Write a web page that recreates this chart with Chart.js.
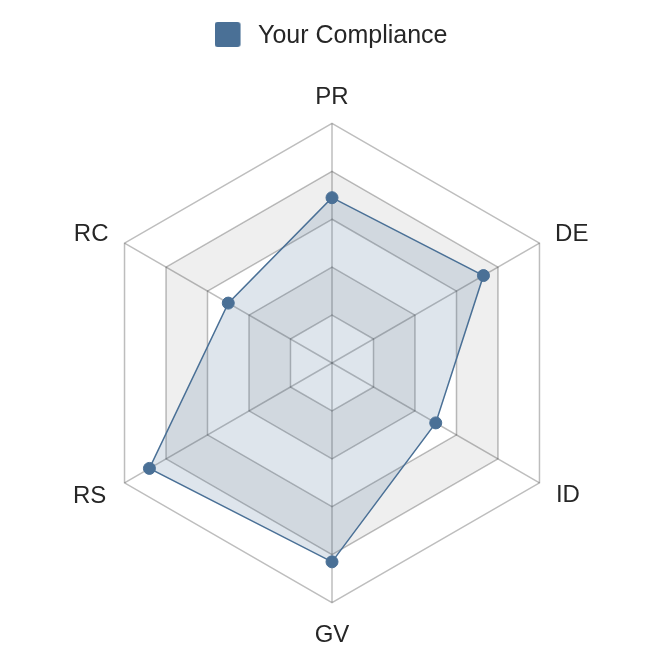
<!DOCTYPE html>
<html>
<head>
<meta charset="utf-8">
<script src="https://cdn.jsdelivr.net/npm/chart.js@4/dist/chart.umd.min.js"></script>
<style>
  html, body { margin: 0; padding: 0; background: #ffffff; }
  #wrap { width: 662px; height: 672px; position: relative; }
</style>
</head>
<body>
<div id="wrap"><canvas id="c"></canvas></div>
<script>
// ---- data ----
const categories = ['PR', 'DE', 'ID', 'GV', 'RS', 'RC'];
const complianceValues = [69, 73, 50, 83, 88, 50];
const seriesName = 'Your Compliance';
const scaleMin = 0;
const scaleMax = 100;
const scaleStep = 20;
const shadedBands = [[20, 40], [60, 80]];

// ---- style ----
const fontFamily = '"Liberation Sans", Arial, Helvetica, sans-serif';
const lineColor = '#4a7096';
const fillColor = 'rgba(74,112,150,0.18)';
const gridColor = 'rgba(0,0,0,0.26)';
const bandColor = '#efefef';
const textColor = '#262626';
const labelPadding = [25.9, 18, 19, 33.2, 21, 18.5];
const labelLineHeight = [0, 0, 5.9, 0, 6.3, 0];

// legend marker: rounded square on the left of a slightly wider cell
const marker = document.createElement('canvas');
marker.width = 31;
marker.height = 31;
(function () {
  const m = marker.getContext('2d');
  m.fillStyle = lineColor;
  m.beginPath();
  if (m.roundRect) m.roundRect(0, 1, 26, 25, 3); else m.rect(0, 1, 26, 25);
  m.fill();
})();

const bandPlugin = {
  id: 'bands',
  beforeDraw(chart) {
    const s = chart.scales.r;
    const ctx = chart.ctx;
    const n = chart.data.labels.length;
    ctx.save();
    ctx.fillStyle = bandColor;
    shadedBands.forEach(([lo, hi]) => {
      ctx.beginPath();
      [hi, lo].forEach(v => {
        const d = s.getDistanceFromCenterForValue(v);
        for (let i = 0; i < n; i++) {
          const p = s.getPointPosition(i, d);
          if (i === 0) ctx.moveTo(p.x, p.y); else ctx.lineTo(p.x, p.y);
        }
        ctx.closePath();
      });
      ctx.fill('evenodd');
    });
    ctx.restore();
  }
};

new Chart(document.getElementById('c'), {
  type: 'radar',
  data: {
    labels: categories,
    datasets: [{
      label: seriesName,
      data: complianceValues,
      borderColor: lineColor,
      backgroundColor: fillColor,
      borderWidth: 1.5,
      pointRadius: 6,
      pointHoverRadius: 6,
      pointBackgroundColor: lineColor,
      pointBorderColor: lineColor,
      pointBorderWidth: 1,
      fill: true
    }]
  },
  plugins: [bandPlugin],
  options: {
    responsive: true,
    maintainAspectRatio: false,
    animation: false,
    layout: { padding: { top: 14, left: 72, right: 72, bottom: 5 } },
    plugins: {
      tooltip: { enabled: false },
      legend: {
        position: 'top',
        labels: {
          usePointStyle: true,
          pointStyleWidth: 31,
          boxHeight: 25,
          color: textColor,
          font: { family: fontFamily, size: 25 },
          generateLabels(chart) {
            return Chart.defaults.plugins.legend.labels.generateLabels(chart).map(l =>
              Object.assign({}, l, { pointStyle: marker, fillStyle: lineColor, strokeStyle: lineColor, lineWidth: 0 }));
          }
        }
      }
    },
    scales: {
      r: {
        min: scaleMin,
        max: scaleMax,
        beginAtZero: true,
        ticks: { display: false, stepSize: scaleStep },
        grid: { color: gridColor, lineWidth: 1.5, circular: false },
        angleLines: { color: gridColor, lineWidth: 1.5 },
        pointLabels: {
          color: textColor,
          padding: (ctx) => labelPadding[ctx.index],
          font: (ctx) => ({ family: fontFamily, size: 24, lineHeight: labelLineHeight[ctx.index] + 'px' })
        }
      }
    }
  }
});
</script>
</body>
</html>
